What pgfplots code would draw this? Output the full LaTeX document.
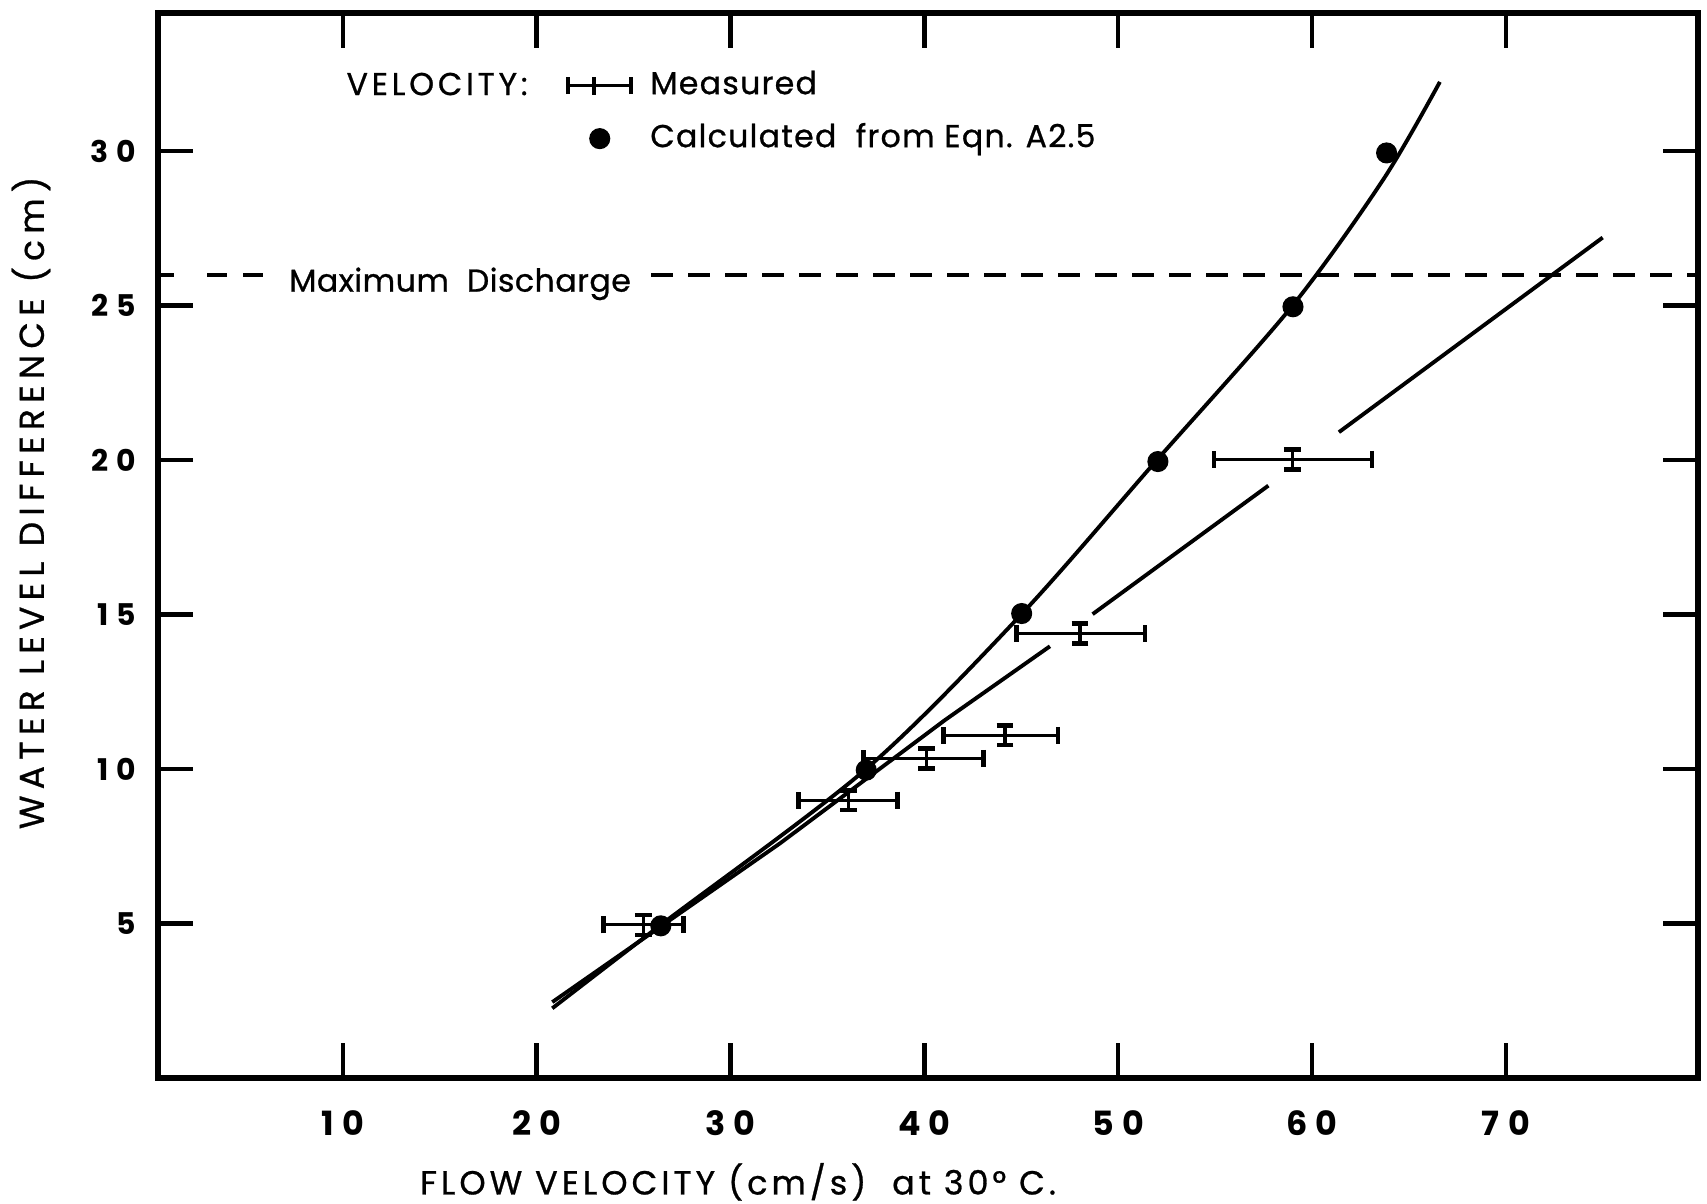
\documentclass[border=0pt]{standalone}
\usepackage{pgfplots}
\pgfplotsset{compat=1.18}
\usepackage{fontspec}
\setmainfont{Poppins}
\newfontfamily\lblfont{Poppins}[LetterSpace=12, FakeBold=0.8]
\newfontfamily\ylblfont{Poppins}[LetterSpace=18, FakeBold=0.8]
\newfontfamily\legfont{Poppins}[LetterSpace=4, FakeBold=0.8]
\newfontfamily\mdfont{Poppins}[LetterSpace=1.5, FakeBold=0.8]
\newfontfamily\tickfont{Poppins}[LetterSpace=25]
\begin{document}
\begin{tikzpicture}
\path[use as bounding box] (-15.79mm,-12.52mm) rectangle (154.91mm,107.78mm);
\begin{axis}[
  scale only axis, width=154.05mm, height=106.48mm,
  at={(0,0)}, anchor=south west,
  xmin=0.45, xmax=79.94, ymin=0, ymax=34.47,
  xtick={10,20,...,70}, ytick={5,10,...,30},
  tick align=inside, major tick length=3.5mm,
  every tick/.style={black, line width=1.3pt},
  axis line style={line width=1.7pt},
  /pgf/number format/assume math mode=true,
  xticklabel style={font=\tickfont\bfseries\fontsize{9.5}{11}\selectfont, yshift=-2mm},
  yticklabel style={font=\tickfont\bfseries\fontsize{8.5}{10}\selectfont, xshift=-1mm},
  xlabel={FLOW VELOCITY (cm/s)\ \ at 30° C.},
  ylabel={WATER LEVEL DIFFERENCE (cm)},
  xlabel style={font=\lblfont\fontsize{9.5}{11}\selectfont, at={(axis description cs:0.3766,-0.0977)}, anchor=center},
  ylabel style={font=\ylblfont\fontsize{9.8}{11}\selectfont, at={(axis description cs:-0.0824,0.54)}, anchor=center},
  legend style={draw=none, fill=none, inner sep=0pt, outer sep=0pt,
    at={(axis description cs:0.2650,0.9069)}, anchor=west,
    font=\legfont\fontsize{9}{11}\selectfont, row sep=2.2mm, column sep=1.7mm,
    nodes={inner sep=0pt, text height=2.4mm, text depth=0.7mm}},
  legend cell align=left,
]
% Measured velocities (error bars)
\addplot[draw=none, mark=none,
  legend image code/.code={
    \draw[black, line width=0.9pt] (0mm,0mm) -- (6.3mm,0mm);
    \draw[black, line width=1.2pt] (0mm,-0.85mm) -- (0mm,0.85mm) (6.3mm,-0.85mm) -- (6.3mm,0.85mm) (2.6mm,-0.9mm) -- (2.6mm,0.9mm);},
  error bars/.cd, x dir=both, x explicit, y dir=both, y explicit,
  error bar style={draw=black, solid, line width=0.9pt},
  error mark options={draw=black, rotate=90, line width=1.3pt, mark size=2.4pt}]
  coordinates {
  (25.5,4.95)  += (2.06,0.32) -= (2.07,0.32)
  (36.1,8.99)  += (2.50,0.32) -= (2.61,0.32)
  (40.1,10.34) += (2.94,0.32) -= (3.25,0.32)
  (44.16,11.09) += (2.74,0.32) -= (3.18,0.32)
  (48.03,14.38) += (3.35,0.32) -= (3.27,0.32)
  (58.98,20.02) += (4.11,0.32) -= (4.04,0.32)
  };
\addlegendentry{Measured}
% Calculated
\addplot[black, only marks, mark=*, mark size=2.8pt,
  legend image code/.code={\draw[mark repeat=2,mark phase=2] plot coordinates {(0mm,0mm)(3.15mm,0mm)(6.3mm,0mm)};}]
  coordinates {(26.4,4.92) (37.0,9.96) (45.02,15.03) (52.05,19.95) (59.02,24.96) (63.85,29.94)};
\addlegendentry{Calculated\ \ from Eqn. A2.5}
% fitted curve through calculated values
\addplot[black, line width=1.1pt, smooth, forget plot]
  coordinates {(20.8,2.25) (26.4,4.95) (37,10) (45,15) (52,20) (59,25) (63.7,29.1) (66.6,32.24)};
% line through measured values (broken)
\addplot[black, line width=1.1pt, forget plot]
  coordinates {(20.8,2.45) (32.55,7.59) (41.06,11.58) (46.48,13.97)};
\addplot[black, line width=1.1pt, forget plot]
  coordinates {(48.68,15.01) (57.75,19.17)};
\addplot[black, line width=1.1pt, forget plot]
  coordinates {(61.39,20.9) (75.0,27.2)};
% maximum discharge
\addplot[black, line width=1.1pt, forget plot]
  coordinates {(0.45,26) (1.3,26)};
\addplot[black, line width=1.1pt, dash pattern=on 2.0mm off 1.6mm, forget plot]
  coordinates {(3.0,26) (6.34,26)};
\addplot[black, line width=1.1pt, dash pattern=on 2.2mm off 1.5mm, forget plot]
  coordinates {(25.9,26) (79.94,26)};
\node[anchor=base west, inner sep=0pt, font=\mdfont\fontsize{9}{11}\selectfont] at (axis cs:7.19,25.45) {Maximum\ \ Discharge};
\node[anchor=west, inner sep=0pt, font=\lblfont\fontsize{9}{11}\selectfont] at (axis cs:10.15,32.17) {VELOCITY:};
\end{axis}
\end{tikzpicture}
\end{document}
